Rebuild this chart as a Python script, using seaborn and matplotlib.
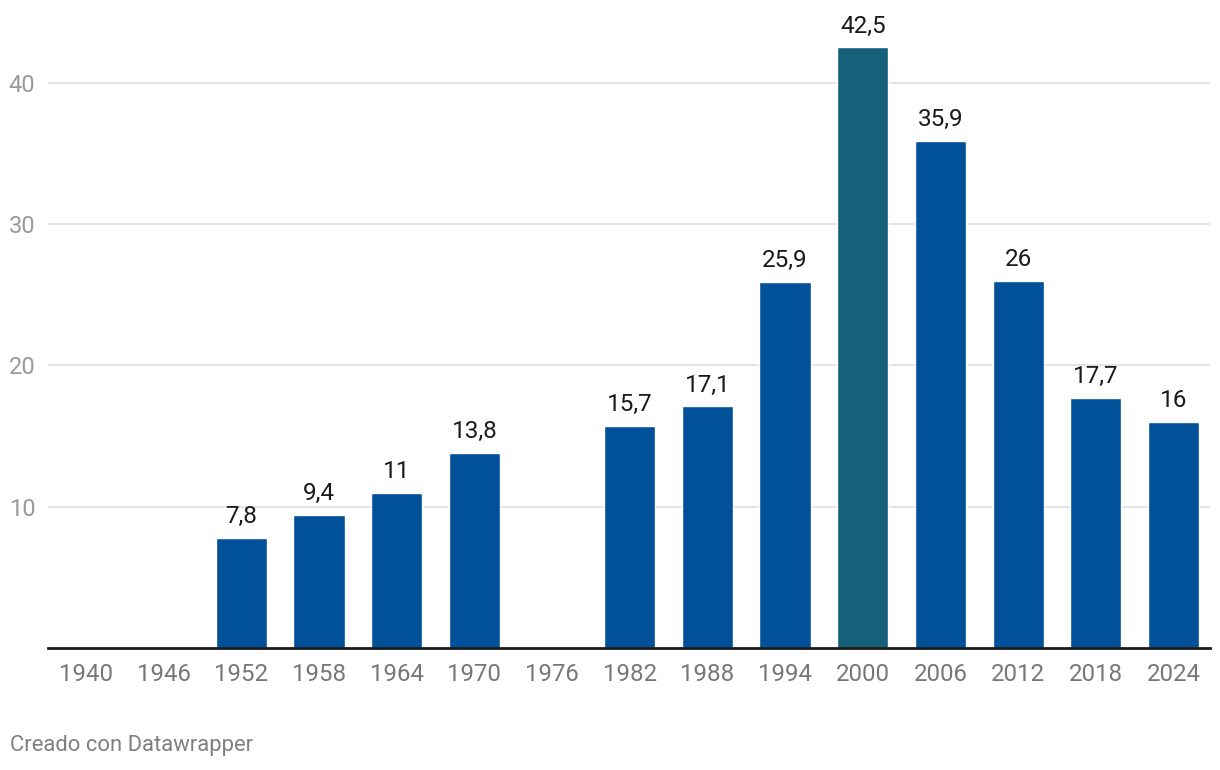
import numpy as np
import pandas as pd
import matplotlib
matplotlib.use("Agg")
import matplotlib.pyplot as plt
import seaborn as sns

years = ["1940", "1946", "1952", "1958", "1964", "1970", "1976", "1982",
         "1988", "1994", "2000", "2006", "2012", "2018", "2024"]
values = [np.nan, np.nan, 7.8, 9.4, 11, 13.8, np.nan, 15.7,
          17.1, 25.9, 42.5, 35.9, 26, 17.7, 16]
highlight = ["no", "no", "no", "no", "no", "no", "no", "no",
             "no", "no", "yes", "no", "no", "no", "no"]
y_ticks = [10, 20, 30, 40]
footer = "Creado con Datawrapper"

sns.set_theme(style="white")
plt.rcParams["font.family"] = ["Roboto", "DejaVu Sans"]

df = pd.DataFrame({"year": years, "value": values, "hl": highlight})

W, H = 1220, 770
fig = plt.figure(figsize=(W / 100, H / 100), dpi=100)
left_px, right_px, base_px, top_px = 48, 1210, 648, 20
ax = fig.add_axes([left_px / W, (H - base_px) / H,
                   (right_px - left_px) / W, (base_px - top_px) / H])

sns.barplot(data=df, x="year", y="value", hue="hl", order=years,
            hue_order=["no", "yes"],
            palette={"no": "#01519A", "yes": "#17607A"},
            dodge=False, width=0.66, saturation=1, legend=False, ax=ax)

px_per_unit = 141.3 / 10
ax.set_ylim(0, (base_px - top_px) / px_per_unit)
ax.set_xlim(-0.49, len(years) - 1 + 0.47)

for c in ax.containers:
    labels = []
    for v in c.datavalues:
        if np.isnan(v):
            labels.append("")
        else:
            labels.append(f"{v:g}".replace(".", ","))
    ax.bar_label(c, labels=labels, padding=7, fontsize=17.5, color="#1a1a1a")

ax.set_yticks(y_ticks)
ax.set_yticklabels([str(t) for t in y_ticks])
ax.yaxis.grid(True, color="#e2e2e2", linewidth=1.3)
ax.set_axisbelow(True)
ax.tick_params(axis="y", length=0, pad=9, labelsize=17, labelcolor="#9a9a9a")
ax.tick_params(axis="x", length=0, pad=11, labelsize=17.3, labelcolor="#777777")
for s in ["top", "right", "left"]:
    ax.spines[s].set_visible(False)
ax.spines["bottom"].set_color("#1a1a1a")
ax.spines["bottom"].set_linewidth(2)
ax.set_xlabel("")
ax.set_ylabel("")

fig.text(10 / W, (H - 746) / H, footer, fontsize=15.8, color="#808080",
         ha="left", va="center")

fig.savefig("out.png", dpi=100, facecolor="white")
